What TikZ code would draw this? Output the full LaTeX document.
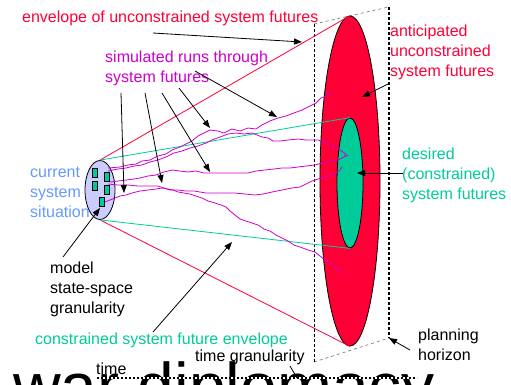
\documentclass[tikz,border=0pt]{standalone}
\usepackage{fontspec}
\setmainfont{Liberation Sans}
\usepackage{xcolor}
\usepackage{tikz}
\definecolor{envred}{HTML}{FF0036}
\definecolor{desgreen}{HTML}{00CC99}
\definecolor{runmag}{HTML}{CC00CC}
\definecolor{nowblue}{HTML}{6699FF}
\definecolor{nowfill}{HTML}{CCCCFF}
\definecolor{planegray}{HTML}{808080}
\tikzset{
  lbl/.style={font=\fontsize{16}{20}\selectfont, anchor=west, inner sep=0pt, align=left},
  pointer/.style={draw=black, line width=0.8pt, -{Triangle[length=8pt,width=6pt]}},
  run/.style={draw=runmag, line width=0.8pt, line join=round},
  blob/.style={ellipse, draw=black, line width=0.8pt, inner sep=0pt},
  cell/.style={fill=desgreen, draw=black, line width=0.5pt},
  plane/.style={draw=black, line width=0.9pt, dash pattern=on 3pt off 2pt},
  plane2/.style={draw=planegray, line width=0.7pt, dash pattern=on 3pt off 3pt},
}
\usetikzlibrary{arrows.meta,shapes.geometric}

\begin{document}
\begin{tikzpicture}[x=1pt,y=-1pt]

  \useasboundingbox (0,0) rectangle (511,384);
  \clip (0,0) rectangle (511,384);

  \node[font=\fontsize{66}{70}\selectfont, anchor=base west, inner sep=0pt] (war) at (13,409) {war diplomacy};

  % planning plane
  \coordinate (tl) at (314,24);
  \coordinate (tr) at (389,7);
  \coordinate (bl) at (314,362);
  \coordinate (br) at (389,338);
  \draw[plane2] (tl) -- (tr);
  \draw[plane2] (bl) -- (br);
  \draw[plane] (tl) -- (bl);
  \draw[plane, line width=1.2pt] (tr) -- (br);

  \node[blob, fill=envred, minimum width=60pt, minimum height=330pt] (fut) at (350,181) {};
  \node[blob, fill=desgreen, minimum width=26pt, minimum height=130pt] (des) at (350,183) {};
  \node[blob, fill=nowfill, minimum width=30pt, minimum height=59pt] (now) at (100,190) {};
  \foreach \cx/\cy in {94.5/172.5, 106.5/176.5, 94.5/186, 106.5/190, 102/202}
    \draw[cell] (\cx-2.5,\cy-4.5) rectangle (\cx+2.5,\cy+4.5);

  \draw[draw=envred, line width=0.8pt] (now.north) -- (fut.north);
  \draw[draw=envred, line width=0.8pt] (now.south) -- (fut.south);
  \draw[draw=desgreen, line width=0.8pt] (now.north) -- (des.north);
  \draw[draw=desgreen, line width=0.8pt] (now.south) -- (des.south);

  % simulated runs
  \draw[run] (108,168) -- (120,167) -- (128,165) -- (136,164) -- (142,161) -- (150,160) -- (158,156)
    -- (166,154) -- (172,150) -- (180,147) -- (186,144) -- (192,141) -- (198,136) -- (204,133)
    -- (210,130) -- (218,131) -- (224,133) -- (232,129) -- (240,131) -- (248,128) -- (256,129)
    -- (262,125) -- (270,121) -- (278,118) -- (286,116) -- (294,113) -- (302,110) -- (310,106)
    -- (316,103) -- (321,98) -- (326,96) -- (332,93);
  \draw[run] (108,171) -- (118,169) -- (126,168) -- (134,166) -- (142,165) -- (150,162) -- (158,160)
    -- (166,157) -- (174,153) -- (182,151) -- (190,148) -- (198,146) -- (206,143) -- (212,140)
    -- (220,137) -- (228,134) -- (236,133) -- (244,134) -- (252,133) -- (262,137) -- (268,138)
    -- (273,141) -- (280,141) -- (288,140) -- (298,139) -- (306,140) -- (318,140) -- (326,143)
    -- (333,146) -- (339,149) -- (343,152) -- (346,154) -- (344,157);
  \draw[run] (110,182) -- (118,181) -- (126,180) -- (134,179) -- (140,178) -- (148,176) -- (156,175)
    -- (164,172) -- (172,170) -- (180,171) -- (188,172) -- (196,171) -- (204,173) -- (215,173)
    -- (230,173) -- (248,173) -- (256,171) -- (265,170) -- (274,169) -- (282,168) -- (290,168)
    -- (298,167) -- (306,166) -- (315,165) -- (322,163) -- (328,162) -- (334,161) -- (340,159)
    -- (344,157) -- (348,155);
  \draw[run] (108,184) -- (118,185) -- (128,185) -- (138,186) -- (148,186) -- (158,186) -- (164,188)
    -- (170,190) -- (178,190) -- (186,191) -- (194,191) -- (200,192) -- (206,193) -- (215,193)
    -- (225,193) -- (235,193) -- (245,194) -- (255,195) -- (263,194) -- (272,192) -- (282,190)
    -- (292,188) -- (300,187) -- (306,184) -- (312,181) -- (318,179) -- (325,177) -- (331,175)
    -- (336,173) -- (340,170) -- (342,167);
  \draw[run] (105,202) -- (110,200) -- (115,198) -- (120,196) -- (126,195) -- (132,193) -- (140,191)
    -- (148,190) -- (156,189) -- (162,188) -- (168,189) -- (173,190) -- (178,192) -- (184,193)
    -- (190,194) -- (196,196) -- (202,198) -- (208,201) -- (215,203) -- (221,205) -- (226,207)
    -- (230,211) -- (235,215) -- (240,219) -- (246,221) -- (252,223) -- (258,225) -- (264,229)
    -- (270,231) -- (276,235) -- (282,238) -- (288,241) -- (294,245) -- (300,247) -- (308,250)
    -- (315,252) -- (320,256) -- (325,260) -- (330,263) -- (336,267) -- (343,273);

  % labels
  \node[lbl, text=envred] (envlbl) at (22,18) {envelope of unconstrained system futures};
  \node[lbl, text=runmag] (simlbl) at (105,68) {simulated runs through\\system futures};
  \node[lbl, text=envred] (antlbl) at (390,52) {anticipated\\unconstrained\\system futures};
  \node[lbl, text=desgreen] (deslbl) at (402,175) {desired\\(constrained)\\system futures};
  \node[lbl, text=nowblue] (curlbl) at (30,192) {current\\system\\situation};
  \node[lbl] (modlbl) at (50,289) {model\\state-space\\granularity};
  \node[lbl, text=desgreen] (conlbl) at (35,340) {constrained system future envelope};
  \node[lbl] (tgrlbl) at (195,357) {time granularity};
  \node[lbl] (timelbl) at (96,369) {time};
  \node[lbl] (horlbl) at (418,345) {planning\\horizon};

  % time axis
  \coordinate (t0) at (97,378);
  \coordinate (t1) at (417,378);
  \draw[white, line width=1.5pt] (t0) -- (t1);
  \draw[black, line width=1.5pt, dash pattern=on 2pt off 2pt] (t0) -- (t1);
  \coordinate (tgr) at (297,378);
  \draw[line width=0.8pt] (290,366) -- (tgr);

  % pointers
  \coordinate (s1) at (121,93);  \coordinate (e1) at (124,193);
  \coordinate (s2) at (145,93);  \coordinate (e2) at (162,183);
  \coordinate (s3) at (162,93);  \coordinate (e3) at (210,172);
  \coordinate (s4) at (179,88);  \coordinate (e4) at (210,128);
  \coordinate (s5) at (195,71);  \coordinate (e5) at (277,117);
  \foreach \i in {1,...,5}
    \draw[pointer] (s\i) -- (e\i);
  \draw[pointer] (153,33) -- (302,42);
  \draw[pointer] (390,83) -- (362,97);
  \draw[pointer] (403,173) -- (357,173);
  \draw[pointer] (63,257) -- (100,208);
  \draw[pointer] (153,332) -- (232,242);
  \draw[pointer] (410,350) -- (br);

\end{tikzpicture}
\end{document}
